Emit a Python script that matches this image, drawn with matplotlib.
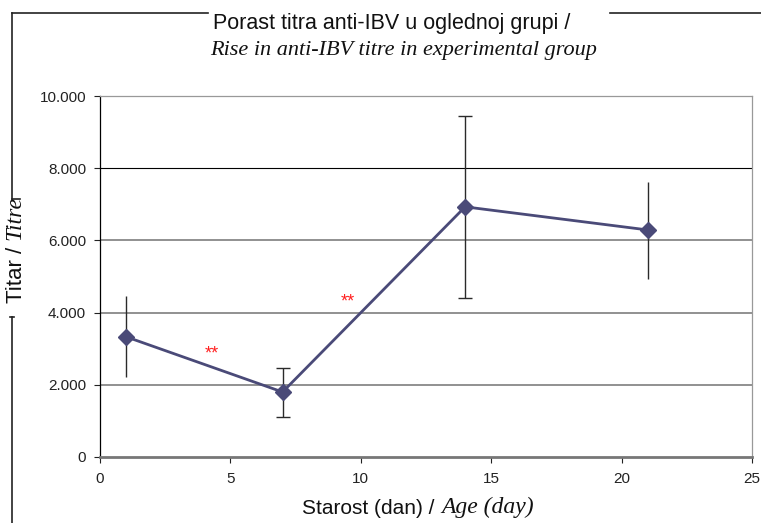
import matplotlib.pyplot as plt
from matplotlib.lines import Line2D

plt.rcParams['font.family'] = ['Liberation Sans', 'DejaVu Sans']

# data
age = [1, 7, 14, 21]
titre = [3330, 1800, 6930, 6290]
err_low = [2220, 1110, 4410, 4930]
err_high = [4460, 2465, 9440, 7620]
has_cap = [False, True, True, False]

y_ticks = [0, 2000, 4000, 6000, 8000, 10000]
y_labels = ['0', '2.000', '4.000', '6.000', '8.000', '10.000']
x_ticks = [0, 5, 10, 15, 20, 25]

# significance stars (x, y)
stars_x = [4.3, 9.5]
stars_y = [2850, 4300]

W, H = 761, 523
fig = plt.figure(figsize=(W / 100, H / 100), dpi=100)
ax = fig.add_axes([100 / W, 1 - 457 / H, 652 / W, 361 / H])

ax.set_xlim(0, 25)
ax.set_ylim(0, 10000)

# horizontal gridlines (the 8.000 line is black in the original)
for v in y_ticks[1:-1]:
    if v == 8000:
        ax.axhline(v, color='black', lw=0.8, zorder=1)
    else:
        ax.axhline(v, color='#888888', lw=1.3, zorder=1)

# error bars
for xi, yi, lo, hi, cap in zip(age, titre, err_low, err_high, has_cap):
    ax.errorbar([xi], [yi], yerr=[[yi - lo], [hi - yi]], fmt='none',
                ecolor='#2a2a2a', elinewidth=1.0,
                capsize=5 if cap else 0, capthick=1.0, zorder=2)

ax.plot(age, titre, color='#4a4a78', lw=2.0, marker='D', markersize=8,
        markerfacecolor='#4a4a78', markeredgecolor='#4a4a78', zorder=3)

for sx, sy in zip(stars_x, stars_y):
    ax.text(sx, sy, '**', color='#ff2020', fontsize=13, ha='center', va='center')

ax.set_yticks(y_ticks)
ax.set_yticklabels(y_labels)
ax.set_xticks(x_ticks)
ax.tick_params(axis='both', labelsize=11, colors='#222222', length=4, width=0.8)
ax.tick_params(axis='y', pad=6)
ax.tick_params(axis='x', pad=7)

ax.spines['left'].set_color('black')
ax.spines['left'].set_linewidth(0.9)
ax.spines['bottom'].set_color('#777777')
ax.spines['bottom'].set_linewidth(2.0)
ax.spines['top'].set_color('#999999')
ax.spines['top'].set_linewidth(0.9)
ax.spines['right'].set_color('#999999')
ax.spines['right'].set_linewidth(0.9)


def fx(px):
    return px / W


def fy(py):
    return 1 - py / H


# title
fig.text(fx(392), fy(23), 'Porast titra anti-IBV u oglednoj grupi /',
         fontsize=15.5, ha='center', va='center', color='#111111')
fig.text(fx(404), fy(51), 'Rise in anti-IBV titre in experimental group',
         fontsize=16, ha='center', va='center', style='italic',
         family='Liberation Serif', color='#111111')

# x label (mixed fonts)
fig.text(fx(440), fy(508), 'Starost (dan) / ', fontsize=15, ha='right',
         va='center', color='#111111')
fig.text(fx(441), fy(507), 'Age (day)', fontsize=17, ha='left', va='center',
         style='italic', family='Liberation Serif', color='#111111')

# y label (mixed fonts)
fig.text(fx(16), fy(241), 'Titar / ', fontsize=16, rotation=90, ha='center',
         va='top', color='#111111')
fig.text(fx(15), fy(240), 'Titre', fontsize=17, rotation=90, ha='center',
         va='bottom', style='italic', family='Liberation Serif', color='#111111')

# outer frame pieces
frame = [
    ([12, 208], [13, 13]),
    ([610, 761], [13, 13]),
    ([12, 12], [13, 199]),
    ([12, 20], [199, 199]),
    ([12, 12], [317, 523]),
    ([10, 14], [317, 317]),
]
for xs, ys in frame:
    fig.add_artist(Line2D([fx(v) for v in xs], [fy(v) for v in ys],
                          color='#222222', lw=1.2))

fig.savefig('out.png', dpi=100)
